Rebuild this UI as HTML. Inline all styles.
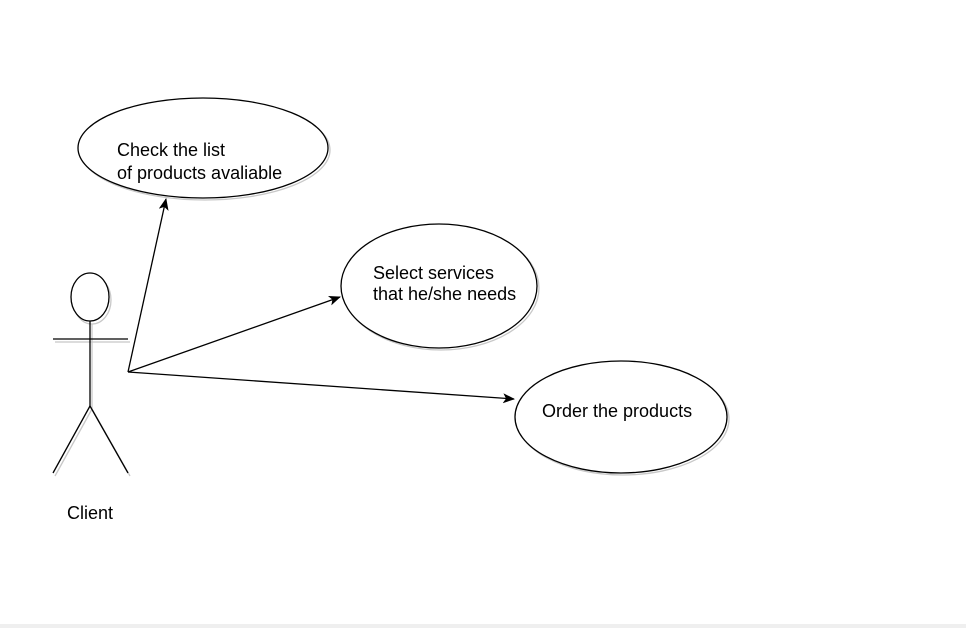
<!DOCTYPE html>
<html><head><meta charset="utf-8"><style>
html,body{margin:0;padding:0;background:#fff;width:966px;height:628px;overflow:hidden}
svg{display:block}
text{font-family:"Liberation Sans",Arial,sans-serif;font-size:18px;fill:#000}
</style></head><body>
<svg width="966" height="628" viewBox="0 0 966 628" xmlns="http://www.w3.org/2000/svg">
<defs>
<marker id="ar" markerWidth="12" markerHeight="10" refX="11" refY="5" orient="auto" markerUnits="userSpaceOnUse">
<path d="M0,0 L12,5 L0,10 L3,5 Z" fill="#000"/>
</marker>
</defs>
<rect x="0" y="624" width="966" height="4" fill="#efefef"/>
<ellipse cx="205" cy="150" rx="125" ry="50" fill="none" stroke="#c8c8c8" stroke-width="1.3"/>
<ellipse cx="203" cy="148" rx="125" ry="50" fill="#fff" stroke="#000" stroke-width="1.3"/>
<ellipse cx="441" cy="288" rx="98" ry="62" fill="none" stroke="#c8c8c8" stroke-width="1.3"/>
<ellipse cx="439" cy="286" rx="98" ry="62" fill="#fff" stroke="#000" stroke-width="1.3"/>
<ellipse cx="623" cy="419" rx="106" ry="56" fill="none" stroke="#c8c8c8" stroke-width="1.3"/>
<ellipse cx="621" cy="417" rx="106" ry="56" fill="#fff" stroke="#000" stroke-width="1.3"/>
<text x="117" y="156">Check the list</text>
<text x="117" y="179">of products avaliable</text>
<text x="373" y="279">Select services</text>
<text x="373" y="300">that he/she needs</text>
<text x="542" y="417">Order the products</text>
<g stroke="#c8c8c8" stroke-width="1.3" fill="none">
<ellipse cx="92" cy="300" rx="19" ry="24"/>
<line x1="55" y1="342" x2="130" y2="342"/>
<line x1="92" y1="324" x2="92" y2="409"/>
<line x1="92" y1="409" x2="55" y2="476"/>
<line x1="92" y1="409" x2="130" y2="476"/>
</g>
<g stroke="#000" stroke-width="1.3" fill="none">
<ellipse cx="90" cy="297" rx="19" ry="24" fill="#fff"/>
<line x1="53" y1="339" x2="128" y2="339"/>
<line x1="90" y1="321" x2="90" y2="406"/>
<line x1="90" y1="406" x2="53" y2="473"/>
<line x1="90" y1="406" x2="128" y2="473"/>
</g>
<text x="67" y="519">Client</text>
<g stroke="#000" stroke-width="1.3" fill="none">
<line x1="128" y1="372" x2="166" y2="199" marker-end="url(#ar)"/>
<line x1="128" y1="372" x2="340" y2="297" marker-end="url(#ar)"/>
<line x1="128" y1="372" x2="514" y2="399" marker-end="url(#ar)"/>
</g>
</svg>
</body></html>
